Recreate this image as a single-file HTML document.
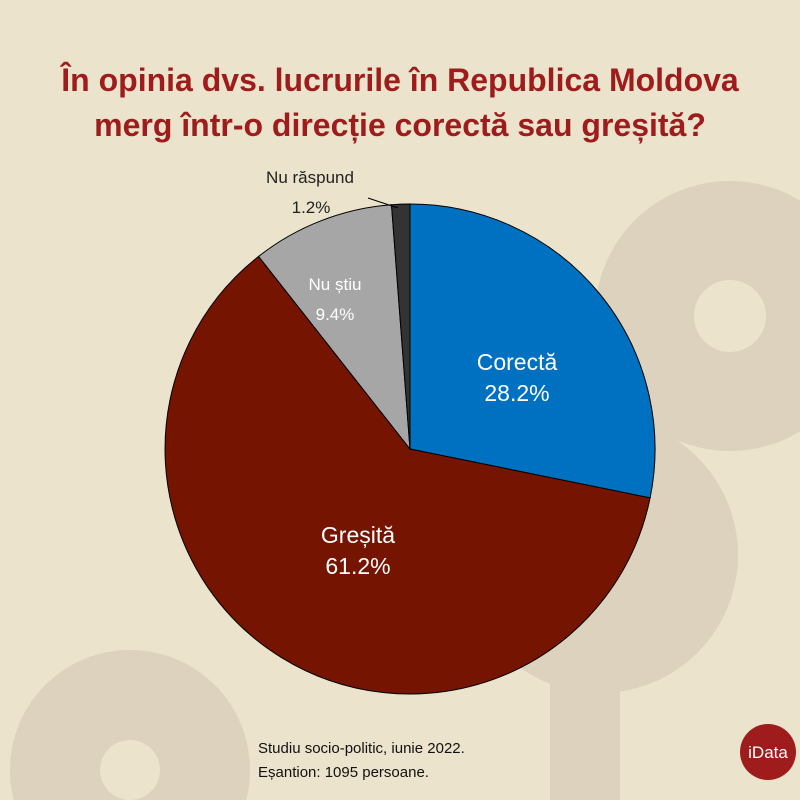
<!DOCTYPE html>
<html><head><meta charset="utf-8"><style>
html,body{margin:0;padding:0;background:#ebe3cc;width:800px;height:800px;overflow:hidden;}
svg{display:block}
text{font-family:"Liberation Sans",sans-serif;}
</style></head><body>
<svg width="800" height="800" viewBox="0 0 800 800">
<rect width="800" height="800" fill="#ebe3cc"/>
<circle cx="730" cy="316" r="135" fill="#dcd2bd"/>
<circle cx="730" cy="316" r="36" fill="#ebe3cc"/>
<circle cx="600" cy="555" r="138" fill="#dcd2bd"/>
<circle cx="607" cy="555" r="22" fill="#ebe3cc"/>
<rect x="550" y="660" width="70" height="140" fill="#dcd2bd"/>
<circle cx="130" cy="770" r="120" fill="#dcd2bd"/>
<circle cx="130" cy="770" r="30" fill="#ebe3cc"/>
<text x="400" y="91" text-anchor="middle" font-size="32" font-weight="bold" fill="#9e1c1c">În opinia dvs. lucrurile în Republica Moldova</text>
<text x="400" y="136" text-anchor="middle" font-size="32" font-weight="bold" fill="#9e1c1c">merg într-o direcție corectă sau greșită?</text>
<g stroke="#000" stroke-width="1">
<path d="M410,449 L410,204 A245,245 0 0 1 650.1,497.9 Z" fill="#0070c0"/>
<path d="M410,449 L650.1,497.9 A245,245 0 1 1 258.6,256.4 Z" fill="#751400"/>
<path d="M410,449 L258.6,256.4 A245,245 0 0 1 391.5,204.7 Z" fill="#a6a6a6"/>
<path d="M410,449 L391.5,204.7 A245,245 0 0 1 410,204 Z" fill="#333"/>
</g>
<line x1="368" y1="198" x2="398" y2="208" stroke="#000" stroke-width="1"/>
<text x="517" y="370" text-anchor="middle" font-size="23" fill="#fff">Corectă</text>
<text x="517" y="401" text-anchor="middle" font-size="23" fill="#fff">28.2%</text>
<text x="358" y="543" text-anchor="middle" font-size="23" fill="#fff">Greșită</text>
<text x="358" y="574" text-anchor="middle" font-size="23" fill="#fff">61.2%</text>
<text x="335" y="290" text-anchor="middle" font-size="17" fill="#fff">Nu știu</text>
<text x="335" y="320" text-anchor="middle" font-size="17" fill="#fff">9.4%</text>
<text x="310" y="183" text-anchor="middle" font-size="17" fill="#222">Nu răspund</text>
<text x="311" y="213" text-anchor="middle" font-size="17" fill="#222">1.2%</text>
<text x="258" y="753" font-size="15" fill="#111">Studiu socio-politic, iunie 2022.</text>
<text x="258" y="777" font-size="15" fill="#111">Eșantion: 1095 persoane.</text>
<circle cx="768" cy="752" r="28" fill="#9e1c1c"/>
<text x="768" y="758" text-anchor="middle" font-size="17" fill="#fff">iData</text>
</svg>
</body></html>
